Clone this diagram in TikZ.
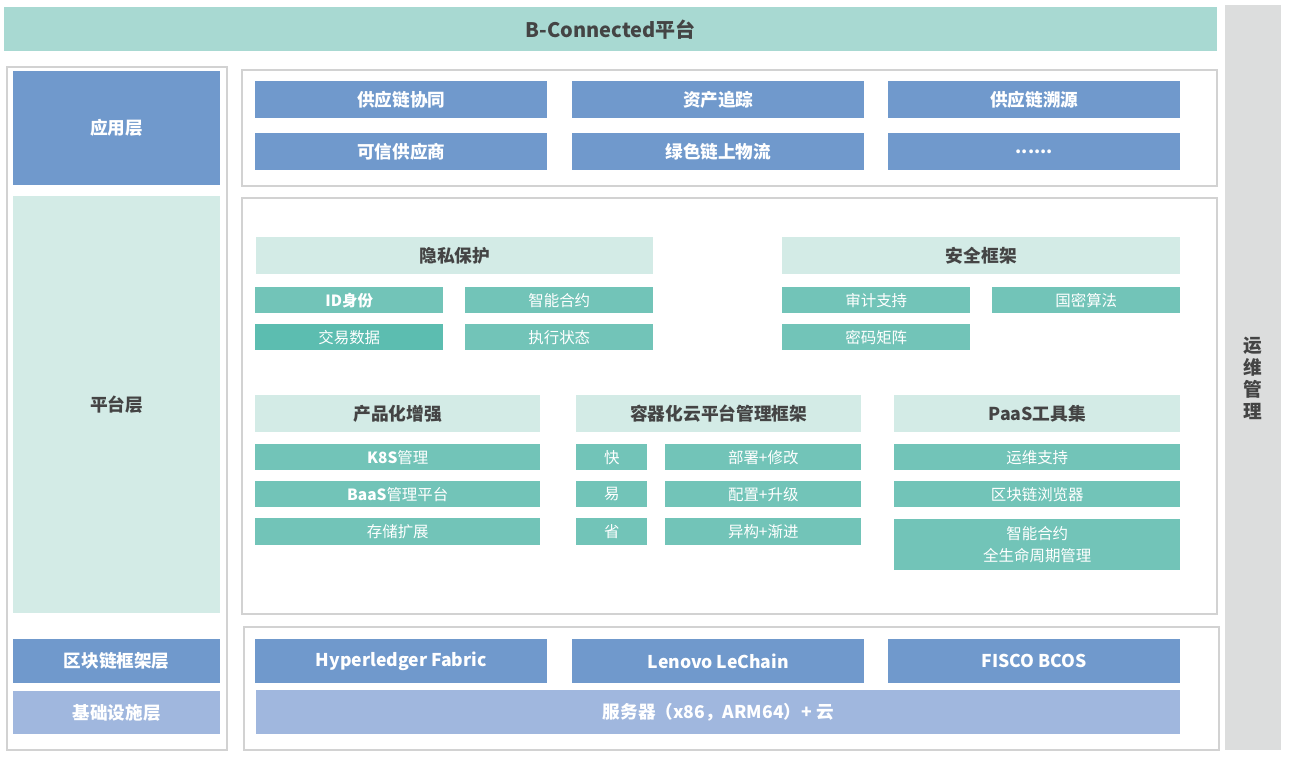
\documentclass[tikz,border=0pt]{standalone}
\usepackage{fontspec}
\setmainfont{Noto Sans CJK SC}
\usetikzlibrary{positioning}
\definecolor{titlebg}{HTML}{A8D9D2}
\definecolor{graybar}{HTML}{DCDDDD}
\definecolor{frameln}{HTML}{D2D2D2}
\definecolor{blueA}{HTML}{7099CC}
\definecolor{blueB}{HTML}{A0B7DE}
\definecolor{mint}{HTML}{D3EBE6}
\definecolor{teal}{HTML}{72C4B8}
\definecolor{tealdark}{HTML}{5CBDB0}
\definecolor{darktxt}{HTML}{444444}
\newcommand\rbox[7]{\node[#2, anchor=north west, inner sep=0pt, align=center,
  minimum width={(#5-#3)*0.75pt}, minimum height={(#6-#4)*0.75pt}] (#1) at (#3,#4) {#7};}
\tikzset{
  titlestyle/.style={fill=titlebg, text=darktxt, font=\fontsize{15}{18}\selectfont\bfseries},
  graystyle/.style={fill=graybar, text=darktxt, font=\fontsize{13}{16}\selectfont\bfseries},
  framestyle/.style={draw=frameln, line width=1.5pt, fill=white},
  bluebox/.style={fill=blueA, text=white, font=\fontsize{13.2}{16}\selectfont\bfseries},
  lightblue/.style={fill=blueB, text=white, font=\fontsize{13.2}{16}\selectfont\bfseries},
  mintbox/.style={fill=mint, text=darktxt, font=\fontsize{13.3}{16}\selectfont\bfseries},
  tealbox/.style={fill=teal, text=white, font=\fontsize{11.6}{17}\selectfont},
  tealdbox/.style={fill=tealdark, text=white, font=\fontsize{11.6}{17}\selectfont},
}
\begin{document}
\begin{tikzpicture}[x=0.75pt,y=-0.75pt]
\useasboundingbox (0,0) rectangle (1289,761);
% top and right bars
\rbox{title}{titlestyle}{4}{7}{1217}{51}{B-Connected平台}
\rbox{ops}{graystyle}{1225}{5}{1281}{750}{}
\node[text=darktxt, font=\fontsize{14}{16.5}\selectfont\bfseries, align=center] (opstxt) at (1253,378) {运\\维\\管\\理};
% frames
\rbox{leftframe}{framestyle}{6}{66}{226}{749}{}
\rbox{appframe}{framestyle}{241}{69}{1216}{185}{}
\rbox{platframe}{framestyle}{241}{197}{1216}{613}{}
\rbox{baseframe}{framestyle}{243}{626}{1218}{749}{}
% left layer labels
\rbox{L1}{bluebox}{13}{71}{220}{185}{应用层}
\rbox{L2}{mintbox}{13}{196}{220}{613}{平台层}
\rbox{L3}{bluebox}{13}{639}{220}{683}{区块链框架层}
\rbox{L4}{lightblue}{13}{691}{220}{734}{基础设施层}
% application layer
\rbox{a1}{bluebox}{255}{81}{547}{118}{供应链协同}
\rbox{a2}{bluebox}{572}{81}{864}{118}{资产追踪}
\rbox{a3}{bluebox}{888}{81}{1180}{118}{供应链溯源}
\rbox{a4}{bluebox}{255}{133}{547}{170}{可信供应商}
\rbox{a5}{bluebox}{572}{133}{864}{170}{绿色链上物流}
\rbox{a6}{bluebox}{888}{133}{1180}{170}{......}
% privacy
\rbox{p0}{mintbox}{256}{237}{653}{274}{隐私保护}
\rbox{p1}{tealbox}{255}{287}{443}{313}{\textbf{ID身份}}
\rbox{p2}{tealbox}{465}{287}{653}{313}{智能合约}
\rbox{p3}{tealdbox}{255}{324}{443}{350}{交易数据}
\rbox{p4}{tealbox}{465}{324}{653}{350}{执行状态}
% security
\rbox{s0}{mintbox}{782}{237}{1180}{274}{安全框架}
\rbox{s1}{tealbox}{782}{287}{970}{313}{审计支持}
\rbox{s2}{tealbox}{992}{287}{1180}{313}{国密算法}
\rbox{s3}{tealbox}{782}{324}{970}{350}{密码矩阵}
% product
\rbox{e0}{mintbox}{255}{395}{540}{432}{产品化增强}
\rbox{e1}{tealbox}{255}{444}{540}{470}{\textbf{K8S}管理}
\rbox{e2}{tealbox}{255}{481}{540}{507}{\textbf{BaaS}管理平台}
\rbox{e3}{tealbox}{255}{518}{540}{545}{存储扩展}
% container
\rbox{c0}{mintbox}{576}{395}{861}{432}{容器化云平台管理框架}
\rbox{c1}{tealbox}{576}{444}{647}{470}{快}
\rbox{c2}{tealbox}{665}{444}{861}{470}{部署+修改}
\rbox{c3}{tealbox}{576}{481}{647}{507}{易}
\rbox{c4}{tealbox}{665}{481}{861}{507}{配置+升级}
\rbox{c5}{tealbox}{576}{518}{647}{545}{省}
\rbox{c6}{tealbox}{665}{518}{861}{545}{异构+渐进}
% paas
\rbox{t0}{mintbox}{894}{395}{1180}{432}{PaaS工具集}
\rbox{t1}{tealbox}{894}{444}{1180}{470}{运维支持}
\rbox{t2}{tealbox}{894}{481}{1180}{507}{区块链浏览器}
\rbox{t3}{tealbox}{894}{519}{1180}{570}{智能合约\\全生命周期管理}
% base
\rbox{b1}{bluebox}{255}{639}{547}{683}{Hyperledger Fabric}
\rbox{b2}{bluebox}{572}{639}{864}{683}{Lenovo LeChain}
\rbox{b3}{bluebox}{888}{639}{1180}{683}{FISCO BCOS}
\rbox{b4}{lightblue}{256}{690}{1180}{734}{服务器（x86，ARM64）+ 云}
\end{tikzpicture}
\end{document}
